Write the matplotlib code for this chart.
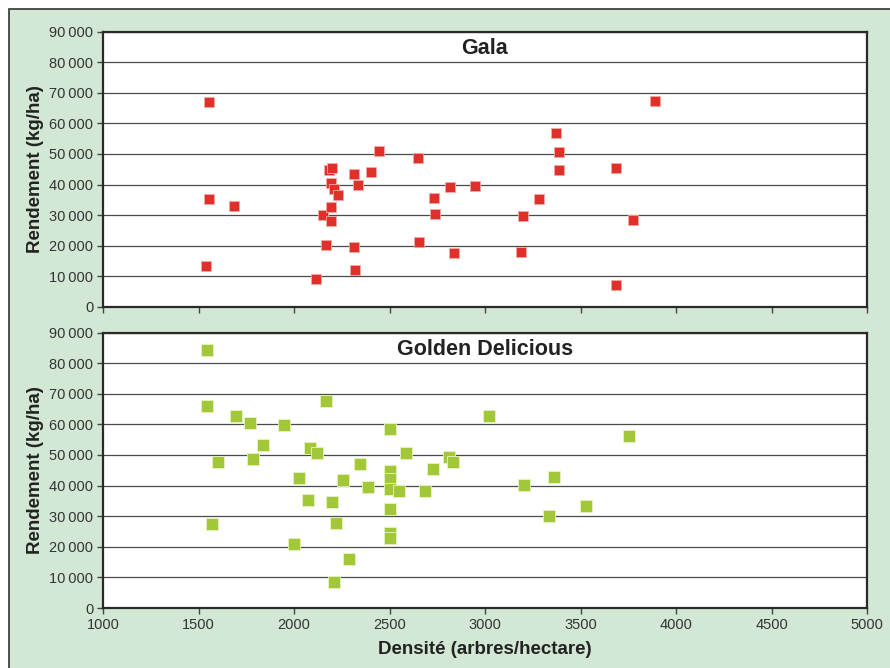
import matplotlib
matplotlib.use("Agg")
import matplotlib.pyplot as plt
from matplotlib.patches import Rectangle
from matplotlib.ticker import FuncFormatter, MultipleLocator

# ---- data ----
gala_density = [1555, 1555, 1539, 1686, 2117, 2150, 2169, 2182, 2199, 2195,
                2211, 2232, 2194, 2195, 2314, 2337, 2314, 2319, 2405, 2447,
                2651, 2654, 2731, 2740, 2817, 2839, 2946, 3888, 3374, 3386,
                3389, 3688, 3285, 3201, 3777, 3188, 3688]
gala_yield = [67000, 35400, 13400, 32900, 9200, 30000, 20300, 44700, 45400, 40400,
              38700, 36600, 32600, 28000, 43400, 39800, 19600, 12200, 44200, 51000,
              48700, 21100, 35700, 30500, 39200, 17800, 39500, 67300, 56800, 50500,
              44800, 45400, 35300, 29700, 28400, 17900, 7300]

golden_density = [1546, 1546, 1573, 1600, 1694, 1771, 1783, 1836, 1948, 2000,
                  2024, 2073, 2082, 2118, 2167, 2199, 2221, 2211, 2254, 2289,
                  2343, 2389, 2500, 2500, 2500, 2500, 2500, 2500, 2500, 2549,
                  2585, 2686, 2727, 2814, 2831, 3020, 3754, 3362, 3202, 3530,
                  3334]
golden_yield = [84200, 65900, 27400, 47700, 62600, 60300, 48600, 53400, 59900, 20900,
                42500, 35400, 52200, 50600, 67600, 34700, 27900, 8500, 41800, 16000,
                47000, 39600, 58500, 44800, 42000, 38800, 32400, 24400, 22800, 38100,
                50700, 38100, 45300, 49200, 47700, 62600, 56200, 42900, 40300, 33300,
                30100]

titles = ["Gala", "Golden Delicious"]
ylabel = "Rendement (kg/ha)"
xlabel = "Densité (arbres/hectare)"

# ---- style ----
BG = "#d3e8d4"
TICK_FONT = ["Liberation Sans Narrow", "Liberation Sans", "DejaVu Sans"]
BOLD_FONT = ["Liberation Sans Narrow", "Liberation Sans", "DejaVu Sans"]

fig = plt.figure(figsize=(8.9, 6.68), dpi=100, facecolor="white")
W, H = 890, 668
frame = Rectangle((9 / W, -0.05), 1.2, (H - 9) / H + 0.05,
                  transform=fig.transFigure, facecolor=BG,
                  edgecolor="#333333", linewidth=1.2, zorder=-10)
fig.add_artist(frame)

left, width = 103 / W, (867 - 103) / W
ax1 = fig.add_axes([left, 1 - 307 / H, width, (307 - 31.5) / H])
ax2 = fig.add_axes([left, 1 - 608 / H, width, (608 - 332.5) / H])

def fmt(v, pos):
    v = int(round(v))
    if v == 0:
        return "0"
    s = f"{v:,}".replace(",", "\u2009")
    return s

series = [(ax1, gala_density, gala_yield, "#e0302a", "#f4a9a4", 52),
          (ax2, golden_density, golden_yield, "#a2c83a", "#e6f3c0", 84)]

for (ax, xs, ys, col, ec, s), title in zip(series, titles):
    ax.set_facecolor("white")
    ax.set_xlim(1000, 5000)
    ax.set_ylim(0, 90000)
    ax.yaxis.set_major_locator(MultipleLocator(10000))
    ax.xaxis.set_major_locator(MultipleLocator(500))
    ax.yaxis.set_major_formatter(FuncFormatter(fmt))
    ax.grid(axis="y", color="#4a4a4a", linewidth=0.9)
    ax.set_axisbelow(True)
    ax.scatter(xs, ys, marker="s", s=s, color=col, edgecolors=ec,
               linewidths=0.6, zorder=3)
    for sp in ax.spines.values():
        sp.set_color("#2a2a2a")
        sp.set_linewidth(1.6)
    ax.tick_params(axis="both", direction="out", length=4, width=1,
                   color="#444444", labelsize=10.5, labelcolor="#333333", pad=3)
    for lab in ax.get_yticklabels() + ax.get_xticklabels():
        lab.set_family(TICK_FONT)
    ax.text(0.5, 0.94, title, transform=ax.transAxes, ha="center", va="center",
            fontsize=15.5, fontweight="bold", color="#222222", family=BOLD_FONT)
    ax.set_ylabel(ylabel, fontsize=13.5, fontweight="bold", color="#222222",
                  family=BOLD_FONT, labelpad=3.5)

ax1.tick_params(axis="x", labelbottom=False)
ax2.set_xlabel(xlabel, fontsize=13.5, fontweight="bold", color="#222222",
               family=BOLD_FONT, labelpad=7)
for lab in ax2.get_xticklabels():
    lab.set_family(TICK_FONT)

fig.savefig("out.png", dpi=100, facecolor="white")
